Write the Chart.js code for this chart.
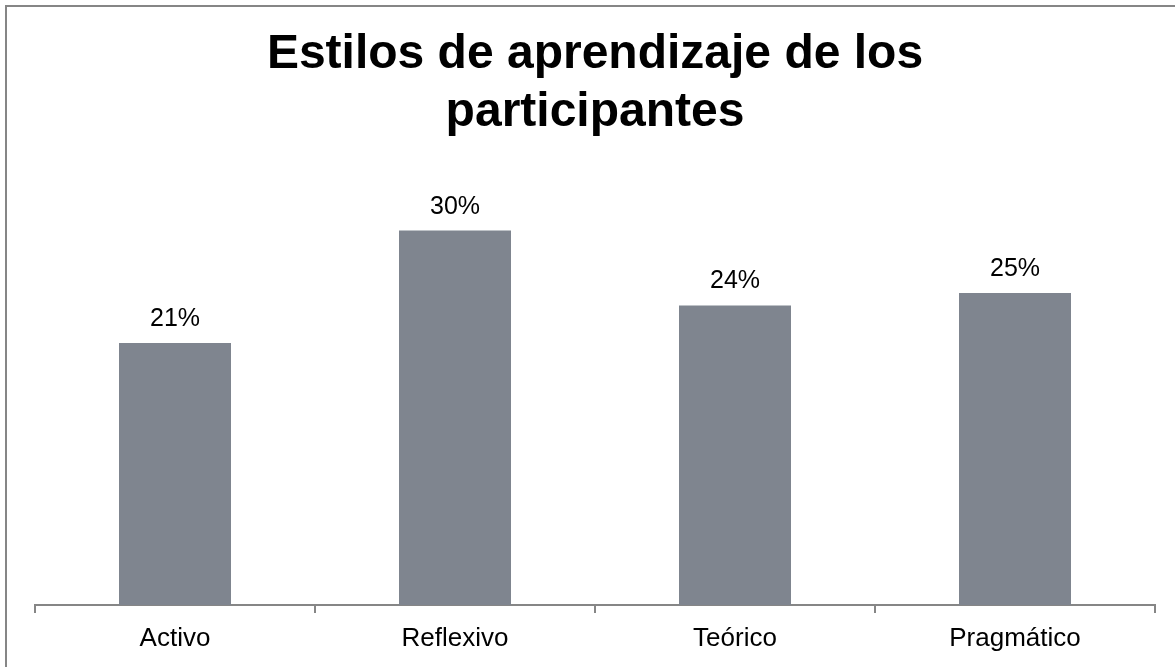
<!DOCTYPE html>
<html>
<head>
<meta charset="utf-8">
<script src="https://cdn.jsdelivr.net/npm/chart.js@4.4.0/dist/chart.umd.min.js"></script>
<style>
    html, body { margin: 0; padding: 0; background: #fff; }
    #wrap { width: 1175px; height: 667px; position: relative; }
</style>
</head>
<body>
<div id="wrap"><canvas id="myChart"></canvas></div>
<script>
// datos del grafico
const categorias = ['Activo', 'Reflexivo', 'Teórico', 'Pragmático'];
const porcentajes = [21, 30, 24, 25];
const tituloLineas = ['Estilos de aprendizaje de los', 'participantes'];

const gris = '#868686';

// marco gris arriba / izquierda
const marco = {
    id: 'marco',
    beforeDraw(chart) {
        const ctx = chart.ctx;
        ctx.save();
        ctx.fillStyle = '#fff';
        ctx.fillRect(0, 0, chart.width, chart.height);
        ctx.strokeStyle = gris;
        ctx.lineWidth = 2;
        ctx.beginPath();
        ctx.moveTo(6, chart.height);
        ctx.lineTo(6, 6);
        ctx.lineTo(chart.width, 6);
        ctx.stroke();
        ctx.restore();
    }
};

// etiquetas de valor encima de cada barra
const etiquetas = {
    id: 'etiquetas',
    afterDatasetsDraw(chart) {
        const ctx = chart.ctx;
        const meta = chart.getDatasetMeta(0);
        ctx.save();
        ctx.font = '25px "Liberation Sans", Arial, sans-serif';
        ctx.fillStyle = '#000';
        ctx.textAlign = 'center';
        ctx.textBaseline = 'alphabetic';
        meta.data.forEach((bar, i) => {
            ctx.fillText(porcentajes[i] + '%', bar.x, bar.y - 17);
        });
        ctx.restore();
    }
};

new Chart(document.getElementById('myChart'), {
    type: 'bar',
    data: {
        labels: categorias,
        datasets: [{
            data: porcentajes,
            backgroundColor: '#7f858f',
            borderWidth: 0,
            barPercentage: 0.4,
            categoryPercentage: 1
        }]
    },
    options: {
        responsive: true,
        maintainAspectRatio: false,
        animation: false,
        layout: {
            padding: { left: 35, right: 20, top: 0, bottom: 0 }
        },
        plugins: {
            legend: { display: false },
            tooltip: { enabled: false },
            title: {
                display: true,
                text: tituloLineas,
                color: '#000',
                font: { family: '"Liberation Sans", Arial, sans-serif', size: 48, weight: 'bold', lineHeight: 1.2 },
                padding: { top: 26, bottom: 27 }
            }
        },
        scales: {
            y: {
                display: false,
                min: 0,
                max: 35
            },
            x: {
                grid: {
                    display: true,
                    drawOnChartArea: false,
                    drawTicks: true,
                    tickLength: 8,
                    color: gris,
                    lineWidth: 2
                },
                border: { display: true, color: gris, width: 2 },
                ticks: {
                    color: '#000',
                    padding: 10,
                    font: { family: '"Liberation Sans", Arial, sans-serif', size: 26 }
                },
                afterFit(scale) {
                    scale.height = 62;
                }
            }
        }
    },
    plugins: [marco, etiquetas]
});
</script>
</body>
</html>
